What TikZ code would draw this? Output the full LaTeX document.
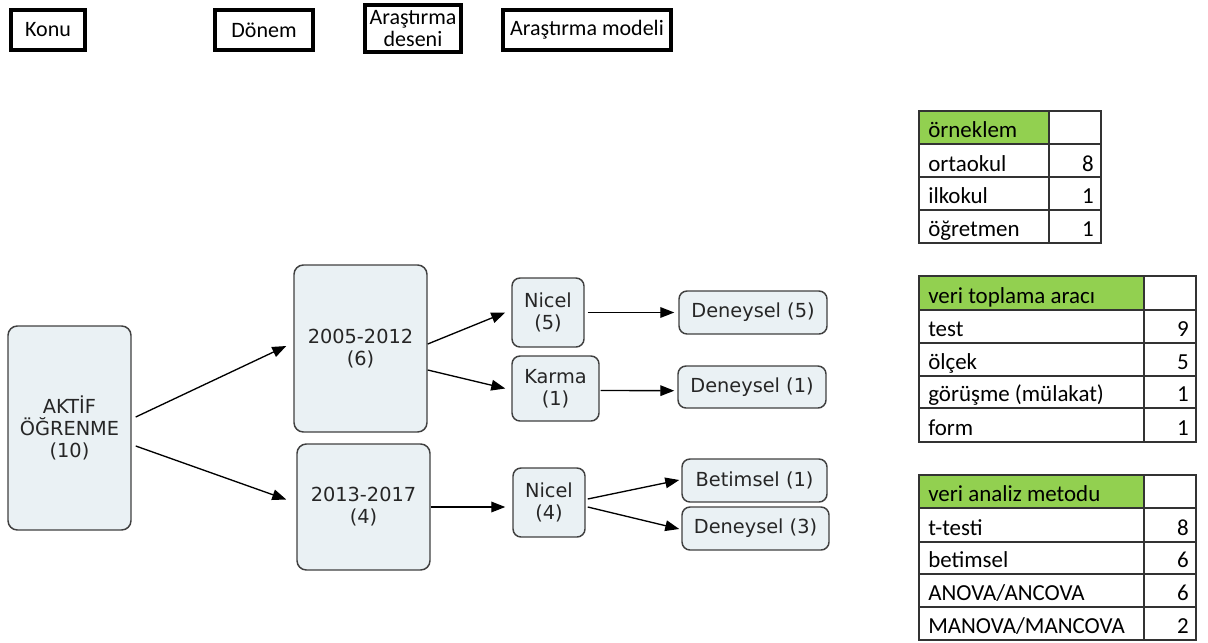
\documentclass[tikz,border=0pt]{standalone}
\usepackage{fontspec}
\setmainfont{Carlito}
\newfontfamily\dv{DejaVu Sans}
\usetikzlibrary{arrows.meta,calc}
\definecolor{nodefill}{HTML}{EAF1F4}
\definecolor{nodeborder}{HTML}{404040}
\definecolor{nodetext}{HTML}{262626}
\definecolor{hdrgreen}{HTML}{92D050}
\definecolor{gridc}{HTML}{333333}
\begin{document}
\begin{tikzpicture}[x=0.75pt,y=-0.75pt,
  hdr/.style={draw=black,line width=3pt,inner sep=0pt,align=center,font=\fontsize{16.5}{17}\selectfont},
  bx/.style={draw=nodeborder,fill=nodefill,text=nodetext,line width=1.1pt,rounded corners=6pt,inner sep=0pt,align=center,font=\dv\fontsize{14.5}{16.5}\selectfont},
  arr/.style={-{Triangle[length=10.5pt,width=8pt]},line width=1pt},
  tcell/.style={anchor=base west,inner sep=0pt,font=\fontsize{17.2}{20}\selectfont},
  tnum/.style={anchor=base east,inner sep=0pt,font=\fontsize{17.2}{20}\selectfont},
  tgrid/.style={draw=gridc,line width=0.8pt}]
\useasboundingbox (0,0) rectangle (1208,643);

% header boxes
\node[hdr,minimum width=55.5pt,minimum height=30pt] (konu) at (48,30) {\raisebox{-1.2pt}{Konu}};
\node[hdr,minimum width=73.5pt,minimum height=30pt] (donem) at (264,30) {\raisebox{-1.2pt}{Dönem}};
\node[hdr,minimum width=72pt,minimum height=35.25pt] (desen) at (413,28.5) {Araştırma\\deseni};
\node[hdr,minimum width=126pt,minimum height=30pt] (model) at (587,30) {\raisebox{-1.2pt}{Araştırma modeli}};

% diagram nodes
\node[bx,minimum width=92.25pt,minimum height=153pt,rounded corners=7pt] (aktif) at (69.5,428) {AKTİF\\ÖĞRENME\\(10)};
\node[bx,minimum width=99.75pt,minimum height=125.25pt,rounded corners=7pt] (p1) at (360.5,348.5) {2005-2012\\(6)};
\node[bx,minimum width=99.75pt,minimum height=94.5pt,rounded corners=7pt] (p2) at (363.5,507) {2013-2017\\(4)};
\node[bx,minimum width=54pt,minimum height=51.75pt] (n5) at (548,312.5) {Nicel\\(5)};
\node[bx,minimum width=65.25pt,minimum height=48.75pt] (k1) at (555.5,388.5) {Karma\\(1)};
\node[bx,minimum width=54pt,minimum height=51.75pt] (n4) at (549,502.5) {Nicel\\(4)};
\node[bx,minimum width=111pt,minimum height=32.25pt] (d5) at (753,312.5) {Deneysel (5)};
\node[bx,minimum width=111pt,minimum height=31.5pt] (d1) at (752,387) {Deneysel (1)};
\node[bx,minimum width=108.75pt,minimum height=32.25pt] (b1) at (754.5,480.5) {Betimsel (1)};
\node[bx,minimum width=110.25pt,minimum height=32.25pt] (d3) at (755.5,528.5) {Deneysel (3)};

% arrows
\draw[arr] ($(aktif.east)+(4,-11)$) -- ($(p1.west)+(-7,-2.5)$);
\draw[arr] ($(aktif.east)+(4,18)$) -- ($(p2.west)+(-10,-7.5)$);
\draw[arr] ($(p1.east)+(0,-4.5)$) -- ($(n5.west)+(-6,0)$);
\draw[arr] ($(p1.east)+(0,21.5)$) -- ($(k1.west)+(-6,0)$);
\draw[arr] (p2.east) -- ($(n4.west)+(-7,4.5)$);
\draw[arr] ($(n5.east)+(3,0)$) -- ($(d5.west)+(-4,0)$);
\draw[arr] ($(k1.east)+(1,2)$) -- ($(d1.west)+(-3,3.7)$);
\draw[arr] ($(n4.east)+(2,-3.5)$) -- ($(b1.west)+(-2,-0.5)$);
\draw[arr] ($(n4.east)+(2,4.5)$) -- ($(d3.west)+(-2,0.5)$);

% table 1
\fill[hdrgreen] (919,111) rectangle (1049,144);
\draw[tgrid] (919,111) rectangle (1101,243);
\draw[tgrid] (1049,111) -- (1049,243);
\foreach \yy in {144,177,210} \draw[tgrid] (919,\yy) -- (1101,\yy);
\node[tcell] (t1h) at (928,137) {örneklem};
\node[tcell] (t1a) at (928,171) {ortaokul};
\node[tcell] (t1b) at (928,203) {ilkokul};
\node[tcell] (t1c) at (928,236) {öğretmen};
\node[tnum] (t1an) at (1094,171) {8};
\node[tnum] (t1bn) at (1094,203) {1};
\node[tnum] (t1cn) at (1094,236) {1};

% table 2
\fill[hdrgreen] (919,276) rectangle (1144,310);
\draw[tgrid] (919,276) rectangle (1196,442);
\draw[tgrid] (1144,276) -- (1144,442);
\foreach \yy in {310,343,376,408} \draw[tgrid] (919,\yy) -- (1196,\yy);
\node[tcell] (t2h) at (928,303) {veri toplama aracı};
\node[tcell] (t2a) at (928,336) {test};
\node[tcell] (t2b) at (928,369) {ölçek};
\node[tcell] (t2c) at (928,401) {görüşme (mülakat)};
\node[tcell] (t2d) at (928,435) {form};
\node[tnum] (t2an) at (1189,336) {9};
\node[tnum] (t2bn) at (1189,369) {5};
\node[tnum] (t2cn) at (1189,401) {1};
\node[tnum] (t2dn) at (1189,435) {1};

% table 3
\fill[hdrgreen] (919,475) rectangle (1144,508);
\draw[tgrid] (919,475) rectangle (1196,640);
\draw[tgrid] (1144,475) -- (1144,640);
\foreach \yy in {508,542,574,607} \draw[tgrid] (919,\yy) -- (1196,\yy);
\node[tcell] (t3h) at (928,501) {veri analiz metodu};
\node[tcell] (t3a) at (928,535) {t-testi};
\node[tcell] (t3b) at (928,567) {betimsel};
\node[tcell] (t3c) at (928,600) {ANOVA/ANCOVA};
\node[tcell] (t3d) at (928,633) {MANOVA/MANCOVA};
\node[tnum] (t3an) at (1189,535) {8};
\node[tnum] (t3bn) at (1189,567) {6};
\node[tnum] (t3cn) at (1189,600) {6};
\node[tnum] (t3dn) at (1189,633) {2};
\end{tikzpicture}
\end{document}
